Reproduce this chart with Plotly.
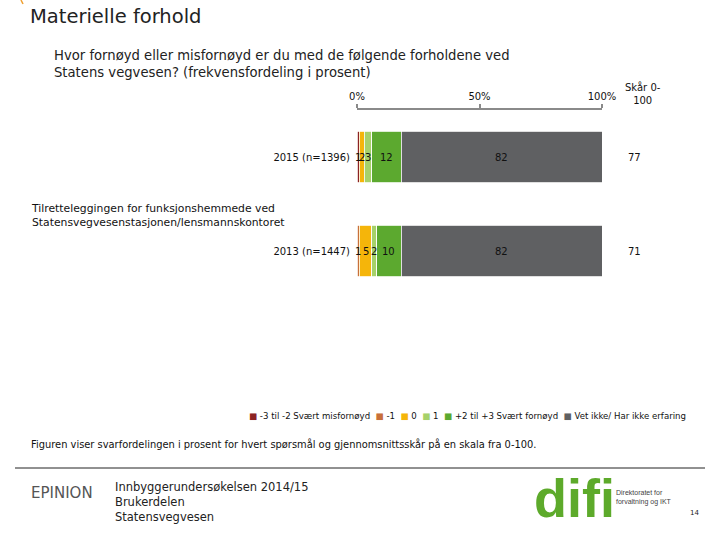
import plotly.graph_objects as go

# ---------------- data ----------------
categories = ["2015 (n=1396)", "2013 (n=1447)"]
series_names = ["-3 til -2 Svært misfornøyd", "-1", "0", "1",
                "+2 til +3 Svært fornøyd", "Vet ikke/ Har ikke erfaring"]
series_colors = ["#8C2323", "#C8703A", "#F5B50A", "#A6D16A", "#5CA92F", "#5F6062"]
v_m3_m2 = [1, 0]
v_m1 = [0, 1]
v_0 = [2, 5]
v_1 = [3, 2]
v_p2_p3 = [12, 10]
v_vetikke = [82, 82]
score = [77, 71]
tick_vals = [0, 50, 100]
tick_text = ["0%", "50%", "100%"]

series_values = [v_m3_m2, v_m1, v_0, v_1, v_p2_p3, v_vetikke]

W, H = 720, 540
def xp(x): return x / W
def yp(y): return 1 - y / H

FONT = "DejaVu Sans"

fig = go.Figure()
for name, vals, col in zip(series_names, series_values, series_colors):
    fig.add_trace(go.Bar(
        y=categories, x=vals, name=name, orientation="h",
        marker=dict(color=col, line=dict(color="white", width=0.8)),
        width=0.553, showlegend=False, hoverinfo="x+name",
    ))

annotations = []
# segment value labels
for ci, cat in enumerate(categories):
    cum = 0
    for vals in series_values:
        v = vals[ci]
        if v > 0:
            annotations.append(dict(
                x=cum + v / 2, y=cat, xref="x", yref="y", text=str(v),
                showarrow=False, font=dict(family=FONT, size=10, color="#111")))
        cum += v

# score column
for cat, s in zip(categories, score):
    annotations.append(dict(
        x=xp(643), y=cat, xref="paper", yref="y", text=str(s),
        showarrow=False, font=dict(family=FONT, size=10, color="#111")))
annotations.append(dict(
    x=xp(643), y=yp(79), xref="paper", yref="paper", text="Skår 0-<br>100",
    showarrow=False, xanchor="center", yanchor="top", align="center",
    font=dict(family=FONT, size=10, color="#111")))

# titles
annotations.append(dict(
    x=xp(28), y=yp(3), xref="paper", yref="paper", text="Materielle forhold",
    showarrow=False, xanchor="left", yanchor="top",
    font=dict(family=FONT, size=19.5, color="#222")))
annotations.append(dict(
    x=xp(52), y=yp(46), xref="paper", yref="paper",
    text="Hvor fornøyd eller misfornøyd er du med de følgende forholdene ved<br>"
         "Statens vegvesen? (frekvensfordeling i prosent)",
    showarrow=False, xanchor="left", yanchor="top", align="left",
    font=dict(family=FONT, size=13.2, color="#222")))

# group label
annotations.append(dict(
    x=xp(29), y=yp(200), xref="paper", yref="paper",
    text="Tilretteleggingen for funksjonshemmede ved<br>"
         "Statensvegvesenstasjonen/lensmannskontoret",
    showarrow=False, xanchor="left", yanchor="top", align="left",
    font=dict(family=FONT, size=10.8, color="#111")))

# legend (as text with coloured swatches)
leg_parts = []
for name, col in zip(series_names, series_colors):
    leg_parts.append(f'<span style="color:{col}">■</span> {name}')
annotations.append(dict(
    x=xp(467), y=yp(416), xref="paper", yref="paper",
    text="  ".join(leg_parts), showarrow=False, xanchor="center", yanchor="middle",
    font=dict(family=FONT, size=8.6, color="#111")))

# note
annotations.append(dict(
    x=xp(29), y=yp(444), xref="paper", yref="paper",
    text="Figuren viser svarfordelingen i prosent for hvert spørsmål og gjennomsnittsskår på en skala fra 0-100.",
    showarrow=False, xanchor="left", yanchor="middle",
    font=dict(family=FONT, size=9.9, color="#111")))

# footer
annotations.append(dict(
    x=xp(29), y=yp(493), xref="paper", yref="paper", text="EPINION",
    showarrow=False, xanchor="left", yanchor="middle",
    font=dict(family=FONT, size=15, color="#555")))
annotations.append(dict(
    x=xp(113), y=yp(478), xref="paper", yref="paper",
    text="Innbyggerundersøkelsen 2014/15<br>Brukerdelen<br>Statensvegvesen",
    showarrow=False, xanchor="left", yanchor="top", align="left",
    font=dict(family=FONT, size=11.5, color="#222")))
annotations.append(dict(
    x=xp(532), y=yp(498), xref="paper", yref="paper", text="<b>difi</b>",
    showarrow=False, xanchor="left", yanchor="middle",
    font=dict(family="Liberation Sans", size=54, color="#5DAA2B")))
annotations.append(dict(
    x=xp(614), y=yp(497), xref="paper", yref="paper",
    text="Direktoratet for<br>forvaltning og IKT",
    showarrow=False, xanchor="left", yanchor="middle", align="left",
    font=dict(family="Liberation Sans", size=7, color="#444")))
annotations.append(dict(
    x=xp(694), y=yp(513), xref="paper", yref="paper", text="14",
    showarrow=False, xanchor="center", yanchor="middle",
    font=dict(family=FONT, size=7, color="#222")))

shapes = [
    dict(type="line", xref="paper", yref="paper", x0=xp(15), x1=xp(705),
         y0=yp(468), y1=yp(468), line=dict(color="#222", width=1)),
    dict(type="line", xref="paper", yref="paper", x0=xp(21), x1=xp(23),
         y0=yp(0), y1=yp(4), line=dict(color="#F0A030", width=1.5)),
]

fig.update_layout(
    width=W, height=H, barmode="stack",
    margin=dict(l=0, r=0, t=0, b=0, autoexpand=False),
    paper_bgcolor="white", plot_bgcolor="white",
    xaxis=dict(domain=[xp(357), xp(602)], range=[0, 100], side="top",
               tickvals=tick_vals, ticktext=tick_text, showgrid=False,
               zeroline=False, showline=True, linecolor="#8a8a8a", linewidth=2,
               ticks="outside", tickcolor="#8a8a8a", ticklen=4, tickwidth=2,
               tickfont=dict(family=FONT, size=10, color="#111")),
    yaxis=dict(domain=[yp(392), yp(110)], range=[2.5, -0.5], type="category",
               categoryorder="array", categoryarray=categories,
               showgrid=False, zeroline=False, showline=False, ticks="",
               ticklabelstandoff=6,
               tickfont=dict(family=FONT, size=10, color="#111")),
    annotations=annotations, shapes=shapes, showlegend=False,
)

fig.write_html("out.html", config={"displayModeBar": False},
               post_script="document.body.style.margin='0';document.body.style.padding='0';")
